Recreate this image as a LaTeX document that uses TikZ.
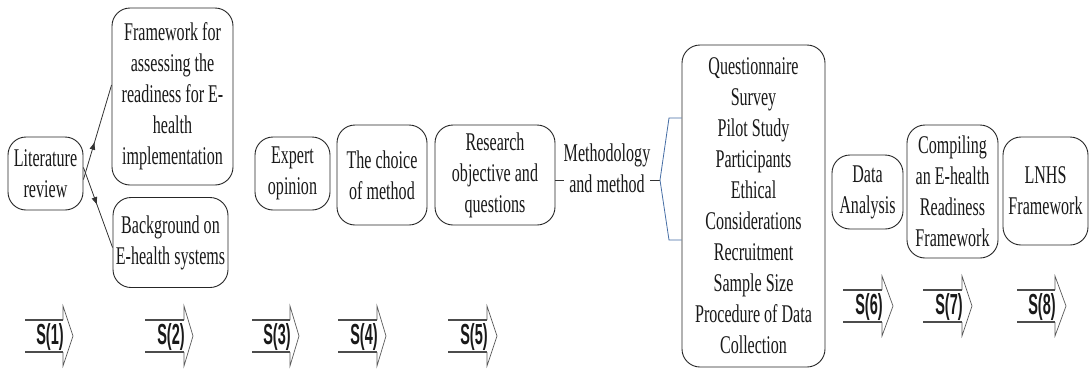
\documentclass[tikz,border=0pt]{standalone}
\usepackage{fontspec}
\setmainfont{Liberation Serif}[FakeStretch=0.63]
\newfontfamily\arrfont{Liberation Sans}[FakeStretch=0.5]
\usetikzlibrary{arrows.meta,decorations.markings,calc}
\definecolor{brc}{RGB}{70,110,165}
\newcommand{\boxfont}{\fontsize{25.5}{31}\selectfont}
\tikzset{
  box/.style={draw=black!85, line width=0.9pt, rounded corners=18pt, align=center,
    inner sep=0pt, font=\boxfont, text=black!90},
  plain/.style={align=center, inner sep=0pt, font=\boxfont, text=black!90},
  link/.style={draw=black!80, line width=0.8pt},
  midarrow/.style={postaction={decorate}, decoration={markings,
    mark=at position #1 with {\arrow{Latex[length=8pt,width=6pt]}}}},
  bracket/.style={draw=brc, line width=0.8pt},
  shaft/.style={draw=black!70, line width=2pt},
  head/.style={draw=black!65, line width=0.7pt},
  slabel/.style={inner sep=0pt, font=\arrfont\bfseries\fontsize{29}{29}\selectfont, text=black!90}
}
\begin{document}
\begin{tikzpicture}[x=1pt,y=-1pt]
\path[use as bounding box, fill=white] (0,0) rectangle (1090,370);

\node[box, minimum width=75pt, minimum height=73pt] (lit) at (45.5,173.5) {Literature\\review};
\node[box, minimum width=121pt, minimum height=177pt] (fw) at (172.5,96.5)
  {Framework for\\assessing the\\readiness for E-\\health\\implementation};
\node[box, minimum width=115pt, minimum height=90pt] (bg) at (170.5,242.5) {Background on\\E-health systems};
\node[box, minimum width=75pt, minimum height=73pt] (exp) at (292.5,173.5) {Expert\\opinion};
\node[box, minimum width=90pt, minimum height=100pt] (choice) at (382,175) {The choice\\of method};
\node[box, minimum width=120pt, minimum height=100pt] (res) at (495,175) {Research\\objective and\\questions};
\node[plain] (meth) at (607,168) {Methodology\\and method};
\node[box, minimum width=143pt, minimum height=322pt] (q) at (753.5,206)
  {Questionnaire\\Survey\\Pilot Study\\Participants\\Ethical\\Considerations\\Recruitment\\Sample Size\\Procedure of Data\\Collection};
\node[box, minimum width=71pt, minimum height=74pt] (da) at (867.5,192) {Data\\Analysis};
\node[box, minimum width=91pt, minimum height=133pt] (comp) at (952.5,191.5) {Compiling\\an E-health\\Readiness\\Framework};
\node[box, minimum width=85pt, minimum height=108pt] (lnhs) at (1045.5,191) {LNHS\\Framework};

% literature review arrows
\draw[link, midarrow=0.4] ([yshift=-6pt]lit.east) -- ([yshift=11.5pt]fw.west);
\draw[link, midarrow=0.47] ([yshift=6pt]lit.east) -- ([yshift=-5pt]bg.west);

% research -> methodology
\draw[link] ([yshift=-5pt]res.east) -- ([yshift=-12pt]meth.west);

% bracket to questionnaire box
\coordinate (bp) at (660,180);
\draw[link] ([yshift=-12pt]meth.east) -- (bp);
\draw[bracket] (q.west |- 0,118) -- (669,118) -- (bp) -- (669,240) -- (q.west |- 0,240);

% step arrows
\foreach \n/\L/\S/\T/\C in {1/25/63/73/336, 2/145/184/193/336, 3/252/290/299/336,
  4/338/377/386/336, 5/448/487/497/336, 6/843/882/893/306, 7/923/962/972/306, 8/1017/1055/1066/306}{
  \draw[head] (\S,\C-16) -- (\S,\C-30) -- (\T,\C) -- (\S,\C+30) -- (\S,\C+16);
  \draw[shaft] (\L,\C-16) -- (\S,\C-16);
  \draw[shaft] (\L,\C+16) -- (\S,\C+16);
  \node[slabel] (s\n) at (\S-13,\C+1) {S(\n)};
}
\end{tikzpicture}
\end{document}
